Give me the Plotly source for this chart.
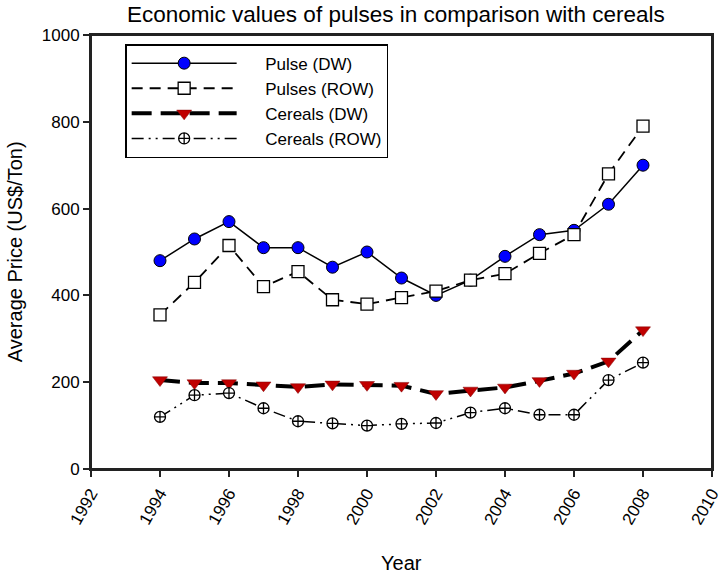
import plotly.graph_objects as go

years = list(range(1994, 2009))
pulse_dw = [480, 530, 570, 510, 510, 465, 500, 440, 400, 435, 490, 540, 550, 610, 700]
pulses_row = [355, 430, 515, 420, 455, 390, 380, 395, 410, 435, 450, 497, 540, 680, 790]
cereals_dw = [205, 198, 198, 193, 189, 195, 194, 192, 173, 181, 188, 203, 220, 248, 320]
cereals_row = [120, 170, 175, 140, 110, 105, 100, 104, 106, 130, 140, 125, 125, 205, 245]

series_names = ["Pulse (DW)", "Pulses (ROW)", "Cereals (DW)", "Cereals (ROW)"]
x_ticks = list(range(1992, 2011, 2))
y_ticks = list(range(0, 1001, 200))

FONT = "Arial, Liberation Sans, sans-serif"
PAD = "\u00a0" * 5

fig = go.Figure()
fig.add_trace(go.Scatter(
    x=years, y=pulse_dw, name=PAD + series_names[0], mode="lines+markers",
    line=dict(color="black", width=1.5, dash="solid"),
    marker=dict(symbol="circle", size=12, color="#0000ff", line=dict(color="black", width=1))))
fig.add_trace(go.Scatter(
    x=years, y=pulses_row, name=PAD + series_names[1], mode="lines+markers",
    line=dict(color="black", width=1.8, dash="11px,7px"),
    marker=dict(symbol="square", size=12, color="white", line=dict(color="black", width=1.3))))
fig.add_trace(go.Scatter(
    x=years, y=cereals_dw, name=PAD + series_names[2], mode="lines+markers",
    line=dict(color="black", width=4, dash="20px,9px"),
    marker=dict(symbol="triangle-down", size=13, color="#c00000", line=dict(color="#800000", width=0.5))))
fig.add_trace(go.Scatter(
    x=years, y=cereals_row, name=PAD + series_names[3], mode="lines+markers",
    line=dict(color="black", width=1.5, dash="12px,5px,2px,5px,2px,5px"),
    marker=dict(symbol="circle-cross", size=11, color="white", line=dict(color="black", width=1.3))))

axis_common = dict(
    showline=True, linecolor="#222222", linewidth=2, mirror=True,
    ticks="outside", ticklen=6, tickwidth=1.5, tickcolor="#222222",
    showgrid=False, zeroline=False, automargin=False,
    ticklabeloverflow="allow",
    tickfont=dict(family=FONT, size=17, color="black"),
)

fig.update_layout(
    width=722, height=575,
    margin=dict(l=91, r=10, t=35, b=106, autoexpand=False),
    paper_bgcolor="white", plot_bgcolor="white",
    title=dict(text="Economic values of pulses in comparison with cereals",
               x=0.491, xanchor="center", xref="paper", y=1 - 14 / 575, yanchor="middle",
               font=dict(family=FONT, size=22.5, color="black")),
    xaxis=dict(range=[1992, 2010], tickvals=x_ticks, tickangle=-60, **axis_common),
    yaxis=dict(range=[0, 1000], tickvals=y_ticks, **axis_common),
    legend=dict(x=0.055, xanchor="left", y=0.979, yanchor="top",
                bordercolor="black", borderwidth=1.5, bgcolor="white",
                font=dict(family=FONT, size=17, color="black"),
                itemwidth=105, tracegroupgap=0),
    showlegend=True,
    shapes=[dict(type="rect", xref="paper", yref="paper", x0=0, x1=1, y0=0, y1=1,
                 line=dict(color="#222222", width=2), fillcolor="rgba(0,0,0,0)", layer="below")],
    annotations=[
        dict(text="Year", xref="paper", yref="paper", x=0.5, y=-0.2166,
             xanchor="center", yanchor="middle", showarrow=False,
             font=dict(family=FONT, size=20, color="black")),
        dict(text="Average Price (US$/Ton)", xref="paper", yref="paper", x=-0.122, y=0.5,
             xanchor="center", yanchor="middle", textangle=-90, showarrow=False,
             font=dict(family=FONT, size=20, color="black")),
    ],
)

fig.write_html(
    "out.html",
    config={"displayModeBar": False},
    post_script=(
        "document.documentElement.style.margin='0';"
        "document.documentElement.style.overflow='hidden';"
        "document.body.style.margin='0';"
        "document.body.style.overflow='hidden';"
    ),
)
